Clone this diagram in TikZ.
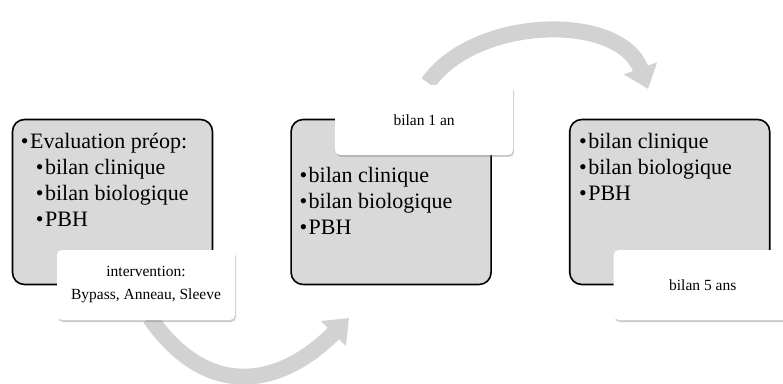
\documentclass[tikz,border=0pt]{standalone}
\usepackage{fontspec}
\setmainfont{Liberation Serif}
\usepackage{xcolor}
\definecolor{BoxGray}{RGB}{217,217,217}
\definecolor{ArrowGray}{RGB}{210,210,210}
\usetikzlibrary{arrows.meta,shadows,positioning}
\newcommand{\itm}{\textbullet\hspace{1.5pt}}

\begin{document}
\begin{tikzpicture}[x=1pt, y=1pt,
		stage/.style={draw=black, fill=BoxGray, line width=1.6pt, rounded corners=12pt, minimum width=200pt, minimum height=165pt, inner sep=0pt},
		tag/.style={fill=white, rounded corners=5pt, minimum width=178pt, minimum height=70pt, align=center, font=\fontsize{15.5}{23}\selectfont, drop shadow={shadow xshift=1pt, shadow yshift=-2pt, opacity=0.4}},
		items/.style={anchor=north west, align=left, inner sep=0pt, font=\fontsize{22}{26}\selectfont},
		flow/.style={line width=16pt, draw=ArrowGray, -{Triangle[width=34pt, length=22pt]}}]
		
		\useasboundingbox (0,0) rectangle (783,383);
		
		% Flows
		\coordinate (go1) at (150,65);
		\coordinate (end1) at (349,65);
		\coordinate (go2) at (428,300);
		\coordinate (end2) at (648,294);
		\draw[flow] (go1) to[out=-55, in=-135, looseness=1.28] (end1);
		\draw[flow] (go2) to[out=55, in=110, looseness=0.95] (end2);
		
		% Rectangle
		\node[stage] (preop) at (112.5,181) {};
		\node[stage, right=77pt of preop] (an1) {};
		\node[stage, right=77pt of an1] (an5) {};
		
		% Text
		\node[items] (preoptxt) at ([shift={(9,-14)}]preop.north west) {\itm Evaluation préop:\\\hspace{15pt}\itm bilan clinique\\\hspace{15pt}\itm bilan biologique\\\hspace{15pt}\itm PBH};
		\node[items] (an1txt) at ([shift={(9,-48)}]an1.north west) {\itm bilan clinique\\\itm bilan biologique\\\itm PBH};
		\node[items] (an5txt) at ([shift={(10,-14)}]an5.north west) {\itm bilan clinique\\\itm bilan biologique\\\itm PBH};
		
		% Labels
		\node[tag] (inter) at ([shift={(33.5,-83)}]preop.center) {intervention:\\Bypass, Anneau, Sleeve};
		\node[tag] (lbl1) at ([shift={(33,82)}]an1.center) {bilan 1 an};
		\node[tag] (lbl5) at ([shift={(33,-83)}]an5.center) {bilan 5 ans};
		
	\end{tikzpicture}
\end{document}
